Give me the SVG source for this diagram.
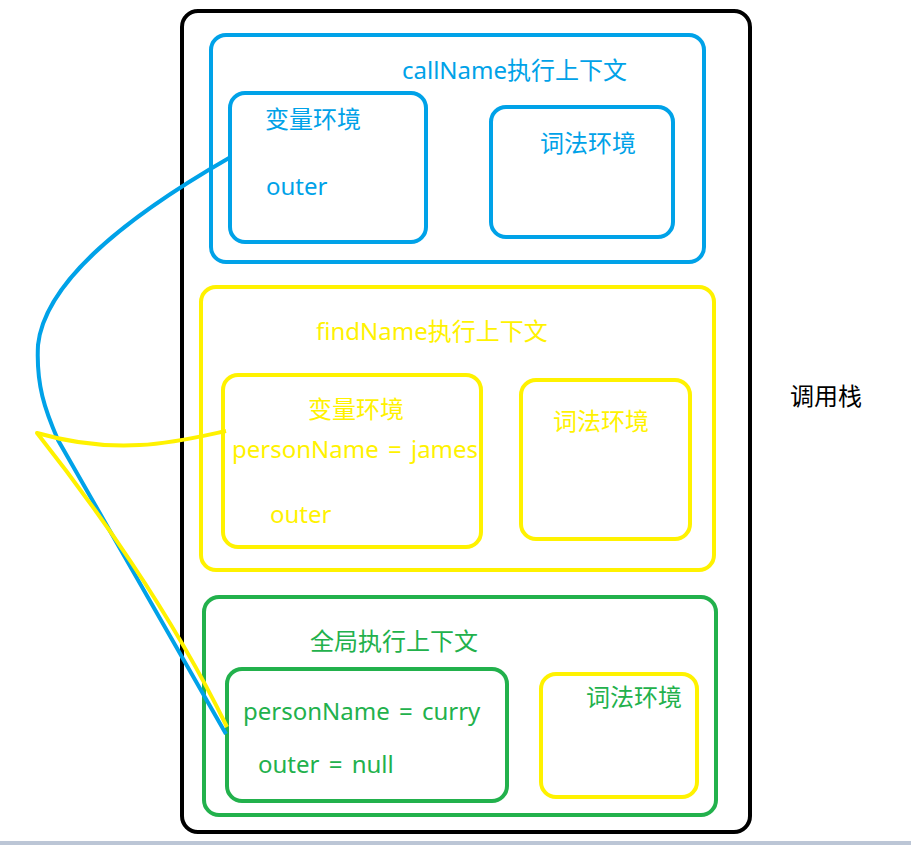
<svg xmlns="http://www.w3.org/2000/svg" width="911" height="845" viewBox="0 0 911 845">
<style>
text{font-family:"Noto Sans","Noto Sans CJK SC",sans-serif;font-size:24px}
.ws{word-spacing:3px}
.b{stroke:#00a2e8;fill:none;stroke-width:4}
.y{stroke:#fff200;fill:none;stroke-width:4}
.g{stroke:#22b14c;fill:none;stroke-width:4}
.tb{fill:#00a2e8}.ty{fill:#fff200}.tg{fill:#22b14c}
</style>
<rect width="911" height="845" fill="#fff"/>
<rect x="0" y="841" width="911" height="4" fill="#bcc6d6"/>
<g id="stack">
<rect x="182" y="11" width="568" height="821" rx="16" fill="none" stroke="#000" stroke-width="4"/>
<text x="790" y="405" fill="#000">调用栈</text>
</g>
<g id="callName">
<rect class="b" x="211" y="35" width="493" height="227" rx="15"/>
<text class="tb" x="402" y="79">callName执行上下文</text>
</g>
<g id="callName-var">
<rect class="b" x="230" y="93" width="196" height="149" rx="15"/>
<text class="tb" x="265" y="128">变量环境</text>
<text class="tb" x="266" y="195">outer</text>
</g>
<g id="callName-lex">
<rect class="b" x="491" y="107" width="182" height="130" rx="15"/>
<text class="tb" x="540" y="152">词法环境</text>
</g>
<g id="findName">
<rect class="y" x="201" y="287" width="513" height="283" rx="15"/>
<text class="ty" x="316" y="340">findName执行上下文</text>
</g>
<g id="findName-var">
<rect class="y" x="223" y="375" width="258" height="172" rx="15"/>
<text class="ty" x="308" y="418">变量环境</text>
<text class="ty ws" x="232" y="458">personName = james</text>
<text class="ty" x="270" y="523">outer</text>
</g>
<g id="findName-lex">
<rect class="y" x="521" y="380" width="169" height="159" rx="15"/>
<text class="ty" x="553" y="430">词法环境</text>
</g>
<g id="global">
<rect class="g" x="204" y="597" width="512" height="218" rx="15"/>
<text class="tg" x="310" y="650">全局执行上下文</text>
</g>
<g id="global-var">
<rect class="g" x="227" y="669" width="280" height="132" rx="15"/>
<text class="tg ws" x="243" y="720">personName = curry</text>
<text class="tg ws" x="258" y="773">outer = null</text>
</g>
<g id="global-lex">
<rect class="y" x="541" y="674" width="156" height="123" rx="15"/>
<text class="tg" x="586" y="706">词法环境</text>
</g>
<g id="connectors">
<path class="b" d="M229,158 C130,215 45,280 38,345 C36,385 45,410 58,440 L226,734"/>
<path class="y" stroke-linejoin="round" d="M226,431 C180,441 120,457 37,433 C90,500 170,610 227,727"/>
</g>
</svg>
